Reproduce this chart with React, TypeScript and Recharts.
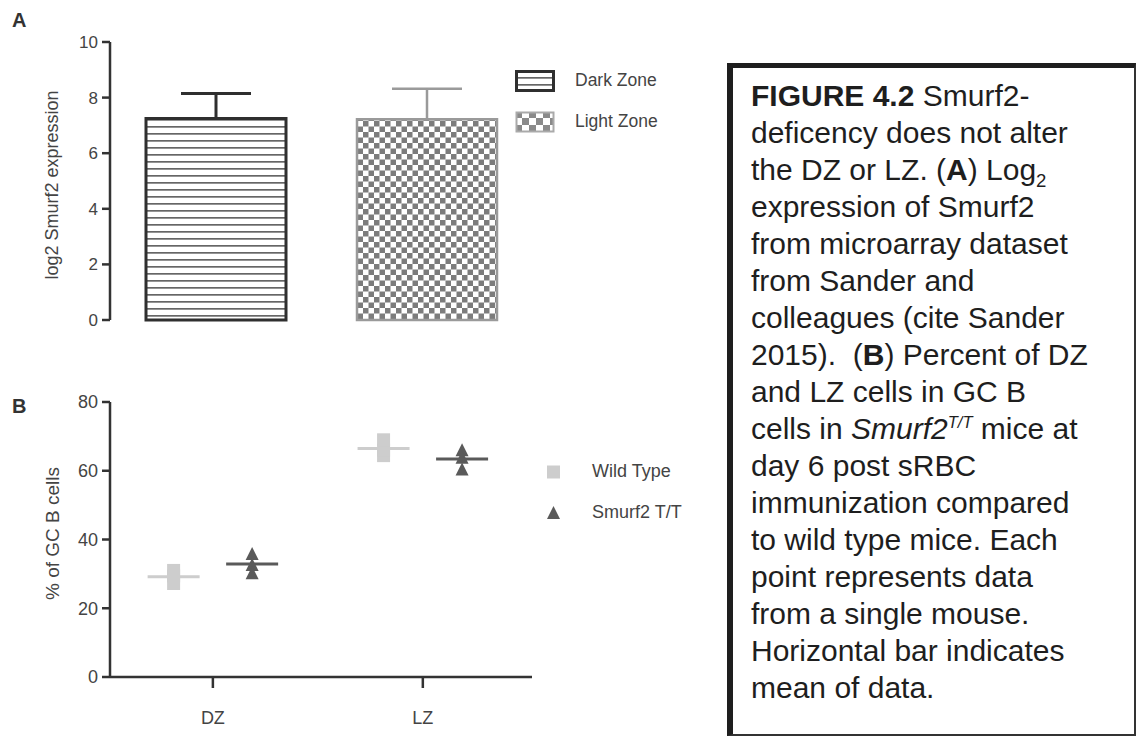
import React from 'react';
import {
  BarChart,
  Bar,
  ErrorBar,
  XAxis,
  YAxis,
  Legend,
  ScatterChart,
  Scatter,
} from 'recharts';

// Panel A: log2 Smurf2 expression (mean + SD)
const zones = ['Dark Zone', 'Light Zone'];
const expression = [7.25, 7.22];
const expressionSd = [0.9, 1.1];
const expressionTicks = [0, 2, 4, 6, 8, 10];

// Panel B: % of GC B cells, one value per mouse
const compartments = ['DZ', 'LZ'];
const genotypes = ['Wild Type', 'Smurf2 T/T'];
const wildTypeDZ = [27.2, 29.4, 31.0];
const wildTypeLZ = [64.4, 66.0, 69.0];
const smurfDZ = [35.8, 32.6, 30.2];
const smurfLZ = [66.0, 63.8, 60.4];
const percentTicks = [0, 20, 40, 60, 80];

const FONT = '"Liberation Sans", Arial, Helvetica, sans-serif';
const INK = '#444';
const axisStyle = { stroke: '#333', strokeWidth: 2.5 };

// one stack key per zone so each bar can have its own colour + error bar
const barData = zones.map((zone, i) => ({
  zone,
  [`z${i}`]: expression[i],
  [`e${i}`]: [0, expressionSd[i]],
}));

const dodge = 0.187; // horizontal shift of the two genotypes around each category
const mean = (a: number[]) => a.reduce((s, v) => s + v, 0) / a.length;
const toPoints = (groups: number[][], side: number) =>
  groups.flatMap((vals, ci) => vals.map((v) => ({ x: ci + 1 + side * dodge, y: v })));
const toMeans = (groups: number[][], side: number) =>
  groups.map((vals, ci) => ({ x: ci + 1 + side * dodge, y: mean(vals) }));

const wtPoints = toPoints([wildTypeDZ, wildTypeLZ], -1);
const ttPoints = toPoints([smurfDZ, smurfLZ], 1);
const wtMeans = toMeans([wildTypeDZ, wildTypeLZ], -1);
const ttMeans = toMeans([smurfDZ, smurfLZ], 1);

const WT_COLOR = '#cdcdcd';
const TT_COLOR = '#5a5a5a';

const SquareDot = (p: any) => (
  <rect x={p.cx - 6.5} y={p.cy - 6.5} width={13} height={13} fill={WT_COLOR} />
);
const TriangleDot = (p: any) => (
  <polygon
    points={`${p.cx},${p.cy - 7} ${p.cx + 6.5},${p.cy + 6} ${p.cx - 6.5},${p.cy + 6}`}
    fill={TT_COLOR}
  />
);
const meanLine = (color: string) => (p: any) => (
  <line x1={p.cx - 26} x2={p.cx + 26} y1={p.cy} y2={p.cy} stroke={color} strokeWidth={3} />
);

// legends are drawn in series order from the name arrays (payload order isn't reliable)
const zoneLegend = () => (
  <div>
    {zones.map((name, i) => (
      <div key={name} style={{ display: 'flex', alignItems: 'center', height: 41 }}>
        <svg width={40} height={22} style={{ display: 'block' }}>
          <rect
            x={1.5}
            y={1.5}
            width={37}
            height={19}
            fill={i === 0 ? 'url(#stripes)' : 'url(#checkBig)'}
            stroke={i === 0 ? '#2f2f2f' : '#aaa'}
            strokeWidth={i === 0 ? 3 : 2}
          />
        </svg>
        <span style={{ marginLeft: 20, fontSize: 17.5, color: INK, fontFamily: FONT }}>{name}</span>
      </div>
    ))}
  </div>
);

const genotypeLegend = () => (
  <div>
    {genotypes.map((name, i) => (
      <div key={name} style={{ display: 'flex', alignItems: 'center', height: 41 }}>
        <svg width={13} height={14} style={{ display: 'block' }}>
          {i === 0 ? (
            <rect x={0} y={0.5} width={13} height={13} fill={WT_COLOR} />
          ) : (
            <polygon points="6.5,0 13,13 0,13" fill={TT_COLOR} />
          )}
        </svg>
        <span style={{ marginLeft: 32, fontSize: 18, color: INK, fontFamily: FONT }}>{name}</span>
      </div>
    ))}
  </div>
);

export default function App() {
  return (
    <div
      style={{
        position: 'absolute',
        left: 0,
        top: 0,
        width: 1137,
        height: 736,
        background: '#fff',
        fontFamily: FONT,
        overflow: 'hidden',
      }}
    >
      <svg width={1137} height={736} style={{ position: 'absolute', left: 0, top: 0 }}>
        <defs>
          <pattern id="stripes" patternUnits="userSpaceOnUse" width={8} height={7}>
            <rect width={8} height={7} fill="#fff" />
            <rect y={0} width={8} height={1.7} fill="#666" />
          </pattern>
          <pattern id="checker" patternUnits="userSpaceOnUse" width={11} height={11}>
            <rect width={11} height={11} fill="#fff" />
            <rect width={5.5} height={5.5} fill="#7c7c7c" />
            <rect x={5.5} y={5.5} width={5.5} height={5.5} fill="#7c7c7c" />
          </pattern>
          <pattern id="checkBig" patternUnits="userSpaceOnUse" width={14} height={14}>
            <rect width={14} height={14} fill="#fff" />
            <rect width={7} height={7} fill="#8a8a8a" />
            <rect x={7} y={7} width={7} height={7} fill="#8a8a8a" />
          </pattern>
        </defs>
        <text x={12} y={27} fontSize={20} fontWeight="bold" fill="#333" fontFamily={FONT}>
          A
        </text>
        <text x={12} y={413} fontSize={20} fontWeight="bold" fill="#333" fontFamily={FONT}>
          B
        </text>
      </svg>

      <div style={{ position: 'absolute', left: 0, top: 0 }}>
        <BarChart
          width={700}
          height={340}
          data={barData}
          margin={{ top: 42, right: 168, bottom: 20, left: 0 }}
        >
          <XAxis dataKey="zone" tick={false} tickLine={false} height={0} axisLine={axisStyle} />
          <YAxis
            width={110}
            domain={[0, 10]}
            ticks={expressionTicks}
            interval={0}
            tickSize={8}
            tickMargin={4}
            axisLine={axisStyle}
            tickLine={axisStyle}
            tick={{ fill: INK, fontSize: 17 }}
            label={{
              value: 'log2 Smurf2 expression',
              angle: -90,
              position: 'insideLeft',
              offset: 52,
              dy: 4,
              style: { textAnchor: 'middle', fill: INK, fontSize: 18 },
            }}
          />
          <Bar
            dataKey="z0"
            name={zones[0]}
            stackId="a"
            barSize={140}
            fill="url(#stripes)"
            stroke="#2f2f2f"
            strokeWidth={3}
            isAnimationActive={false}
          >
            <ErrorBar dataKey="e0" width={35} stroke="#2f2f2f" strokeWidth={3} direction="y" isAnimationActive={false} />
          </Bar>
          <Bar
            dataKey="z1"
            name={zones[1]}
            stackId="a"
            barSize={140}
            fill="url(#checker)"
            stroke="#9a9a9a"
            strokeWidth={2.5}
            isAnimationActive={false}
          >
            <ErrorBar dataKey="e1" width={35} stroke="#9a9a9a" strokeWidth={2.5} direction="y" isAnimationActive={false} />
          </Bar>
          <Legend
            layout="horizontal"
            verticalAlign="middle"
            align="center"
            content={zoneLegend}
            wrapperStyle={{ left: 515, top: 60, width: 180, height: 82 }}
          />
        </BarChart>
      </div>

      <div style={{ position: 'absolute', left: 0, top: 340 }}>
        <ScatterChart width={700} height={396} margin={{ top: 62, right: 168, bottom: 0, left: 0 }}>
          <XAxis
            type="number"
            dataKey="x"
            domain={[0.51, 2.52]}
            ticks={[1, 2]}
            interval={0}
            allowDataOverflow
            tickFormatter={(v: number) => compartments[v - 1]}
            height={59}
            tickSize={11}
            tickMargin={23}
            axisLine={axisStyle}
            tickLine={axisStyle}
            tick={{ fill: INK, fontSize: 18 }}
          />
          <YAxis
            type="number"
            dataKey="y"
            width={110}
            domain={[0, 80]}
            ticks={percentTicks}
            interval={0}
            tickSize={8}
            tickMargin={4}
            axisLine={axisStyle}
            tickLine={axisStyle}
            tick={{ fill: INK, fontSize: 18 }}
            label={{
              value: '% of GC B cells',
              angle: -90,
              position: 'insideLeft',
              offset: 52,
              dy: -6,
              style: { textAnchor: 'middle', fill: INK, fontSize: 19 },
            }}
          />
          <Scatter name={genotypes[0]} data={wtPoints} shape={SquareDot} isAnimationActive={false} />
          <Scatter name="wt mean" data={wtMeans} shape={meanLine(WT_COLOR)} legendType="none" isAnimationActive={false} />
          <Scatter name={genotypes[1]} data={ttPoints} shape={TriangleDot} isAnimationActive={false} />
          <Scatter name="tt mean" data={ttMeans} shape={meanLine(TT_COLOR)} legendType="none" isAnimationActive={false} />
          <Legend
            layout="horizontal"
            verticalAlign="middle"
            align="center"
            content={genotypeLegend}
            wrapperStyle={{ left: 547, top: 111, width: 160, height: 82 }}
          />
        </ScatterChart>
      </div>

      <div
        style={{
          position: 'absolute',
          left: 727,
          top: 63,
          width: 409,
          height: 673,
          boxSizing: 'border-box',
          borderLeft: '6px solid #1e1e1e',
          borderTop: '5px solid #1e1e1e',
          borderRight: '2px solid #333',
          borderBottom: '2px solid #333',
          padding: '9px 0 0 18px',
          fontSize: 30,
          lineHeight: '37px',
          color: '#1e1e1e',
          whiteSpace: 'nowrap',
          fontFamily: FONT,
        }}
      >
        <div><b>FIGURE 4.2</b> Smurf2-</div>
        <div>deficency does not alter</div>
        <div>
          the DZ or LZ. (<b>A</b>) Log<sub style={{ fontSize: '0.62em', lineHeight: 0 }}>2</sub>
        </div>
        <div>expression of Smurf2</div>
        <div>from microarray dataset</div>
        <div>from Sander and</div>
        <div>colleagues (cite Sander</div>
        <div>2015).&nbsp; (<b>B</b>) Percent of DZ</div>
        <div>and LZ cells in GC B</div>
        <div>
          cells in <i>Smurf2<sup style={{ fontSize: '0.55em', lineHeight: 0 }}>T/T</sup></i> mice at
        </div>
        <div>day 6 post sRBC</div>
        <div>immunization compared</div>
        <div>to wild type mice. Each</div>
        <div>point represents data</div>
        <div>from a single mouse.</div>
        <div>Horizontal bar indicates</div>
        <div>mean of data.</div>
      </div>
    </div>
  );
}
